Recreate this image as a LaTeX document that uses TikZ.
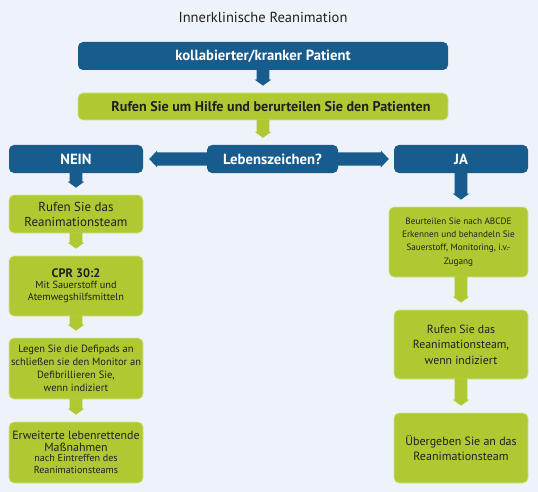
\documentclass[tikz,border=0pt]{standalone}
\usepackage{fontspec}
\setmainfont{PT Sans}
\usetikzlibrary{calc}
\definecolor{bgc}{HTML}{EEF3FA}
\definecolor{dblue}{HTML}{175C8C}
\definecolor{lgreen}{HTML}{B0C933}
\definecolor{gedge}{HTML}{D2E08A}
\definecolor{txt}{HTML}{231F20}
% vertical block arrow from node #1 (bottom) to just above node #2, on the x of node #4
\newcommand\BArrV[4]{\fill[#3] let \p1=(#1.south), \p2=(#2.north), \p3=(#4.center) in
 (\x3-6.3pt,\y1+1pt) -- (\x3-6.3pt,\y2+13pt) -- (\x3-8.3pt,\y2+13pt) -- (\x3,\y2+7pt)
 -- (\x3+8.3pt,\y2+13pt) -- (\x3+6.3pt,\y2+13pt) -- (\x3+6.3pt,\y1+1pt) -- cycle;}
% horizontal block arrow to the left: from #1.west to #2.east
\newcommand\BArrL[3]{\fill[#3] let \p1=(#1.west), \p2=(#2.east) in
 (\x1+1pt,\y1+6.5pt) -- (\x2+14pt,\y1+6.5pt) -- (\x2+14pt,\y1+8.5pt) -- (\x2+6pt,\y1)
 -- (\x2+14pt,\y1-8.5pt) -- (\x2+14pt,\y1-6.5pt) -- (\x1+1pt,\y1-6.5pt) -- cycle;}
% horizontal block arrow to the right: from #1.east to #2.west
\newcommand\BArrR[3]{\fill[#3] let \p1=(#1.east), \p2=(#2.west) in
 (\x1-1pt,\y1+6.5pt) -- (\x2-13pt,\y1+6.5pt) -- (\x2-13pt,\y1+8.5pt) -- (\x2-5pt,\y1)
 -- (\x2-13pt,\y1-8.5pt) -- (\x2-13pt,\y1-6.5pt) -- (\x1-1pt,\y1-6.5pt) -- cycle;}
\begin{document}
\begin{tikzpicture}[x=1pt,y=-1pt,
  bluebox/.style={fill=dblue, rounded corners=5pt, text=white, inner sep=0pt, align=center,
    font=\fontsize{14.7}{16}\selectfont\bfseries},
  greenbox/.style={fill=lgreen, draw=gedge, line width=0.7pt, rounded corners=5pt, text=txt,
    inner sep=0pt, align=center},
  title/.style={text=txt, font=\fontsize{14.5}{16}\selectfont},
]
\fill[bgc] (0,0) rectangle (538,492);
\useasboundingbox (0,0) rectangle (538,492);

\node[title] (title) at (263,17) {Innerklinische Reanimation};

\node[bluebox, minimum width=370pt, minimum height=28pt] (kp) at (263,56) {kollabierter/kranker Patient};
\node[greenbox, minimum width=370pt, minimum height=27pt, font=\fontsize{14.1}{16}\selectfont\bfseries] (hilfe) at (263,106.5)
  {\hspace*{16pt}Rufen Sie um Hilfe und berurteilen Sie den Patienten};

\node[bluebox, minimum width=134pt, minimum height=28pt] (nein) at (76,159) {NEIN};
\node[bluebox, minimum width=131pt, minimum height=28pt] (leb) at (272.5,159) {Lebenszeichen?};
\node[bluebox, minimum width=134pt, minimum height=28pt] (ja) at (461,159) {JA};

\node[greenbox, minimum width=134pt, minimum height=38pt, font=\fontsize{13}{15}\selectfont] (l1) at (76,214)
  {Rufen Sie das\\Reanimationsteam};
\node[greenbox, minimum width=134pt, minimum height=60pt] (l2) at (76,286)
  {{\fontsize{12.3}{13}\selectfont\bfseries CPR 30:2}\\[-1pt]{\fontsize{10.3}{12}\selectfont Mit Sauerstoff und}\\{\fontsize{10.3}{12}\selectfont Atemwegshilfsmitteln}};
\node[greenbox, minimum width=134pt, minimum height=61pt, font=\fontsize{10.5}{13}\selectfont] (l3) at (76,368.5)
  {Legen Sie die Defipads an\\schließen sie den Monitor an\\Defibrillieren Sie,\\wenn indiziert};
\node[greenbox, minimum width=134pt, minimum height=61pt] (l4) at (76,452.5)
  {{\fontsize{11.9}{14}\selectfont Erweiterte lebenrettende}\\{\fontsize{11.9}{14}\selectfont Maßnahmen}\\[-2pt]{\fontsize{10.1}{12.5}\selectfont nach Eintreffen des}\\{\fontsize{10.1}{12.5}\selectfont Reanimationsteams}};

\node[greenbox, minimum width=139pt, minimum height=70pt, font=\fontsize{9.2}{13.3}\selectfont] (r1) at (458.5,242)
  {Beurteilen Sie nach ABCDE\\Erkennen und behandeln Sie\\Sauerstoff, Monitoring, i.v.-\\Zugang};
\node[greenbox, minimum width=134pt, minimum height=69pt, font=\fontsize{11.8}{15.5}\selectfont] (r2) at (461,344.5)
  {Rufen Sie das\\Reanimationsteam,\\wenn indiziert};
\node[greenbox, minimum width=134pt, minimum height=70pt, font=\fontsize{12}{15}\selectfont] (r3) at (461,448)
  {Übergeben Sie an das\\Reanimationsteam};

\BArrV{kp}{hilfe}{dblue}{kp}
\BArrV{hilfe}{leb}{lgreen}{kp}
\BArrL{leb}{nein}{dblue}
\BArrR{leb}{ja}{dblue}
\BArrV{nein}{l1}{dblue}{nein}
\BArrV{l1}{l2}{lgreen}{l1}
\BArrV{l2}{l3}{lgreen}{l2}
\BArrV{l3}{l4}{lgreen}{l3}
\BArrV{ja}{r1}{dblue}{ja}
\BArrV{r1}{r2}{lgreen}{r2}
\BArrV{r2}{r3}{lgreen}{r2}
\end{tikzpicture}
\end{document}
